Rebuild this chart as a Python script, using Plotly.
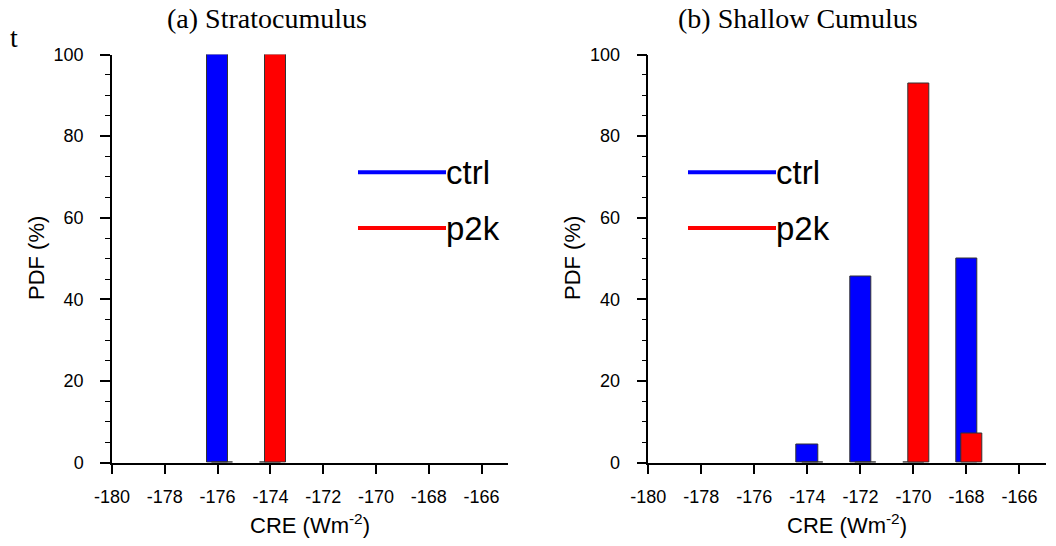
import plotly.graph_objects as go

W, H = 1056, 546

# ---- data ----
sc_bins = [-176, -174]
sc_ctrl = [100, 0]
sc_p2k = [0, 100]

cu_bins = [-174, -172, -170, -168]
cu_ctrl = [4.5, 45.5, 0, 50]
cu_p2k = [0, 0, 92.9, 7.1]

xticks = [-180, -178, -176, -174, -172, -170, -168, -166]
xticklabels = ["-180", "-178", "-176", "-174", "-172", "-170", "-168", "-166"]
yticks = [0, 20, 40, 60, 80, 100]
titles = ["(a) Stratocumulus", "(b) Shallow Cumulus"]
series_names = ["ctrl", "p2k"]
colors = ["#0000ff", "#ff0000"]

# ---- layout geometry (pixels) ----
def px(x):
    return x / W

def py(y):
    return 1 - y / H

dom_x1 = [px(112), px(508)]
dom_x2 = [px(648.3), px(1046)]
dom_y = [py(462.7), py(54.5)]

fig = go.Figure()

BW = 0.8
for (bins, ctrl, p2k, xa, ya) in [
    (sc_bins, sc_ctrl, sc_p2k, "x", "y"),
    (cu_bins, cu_ctrl, cu_p2k, "x2", "y2"),
]:
    fig.add_trace(go.Bar(x=bins, y=ctrl, width=BW, offset=-0.4,
                         marker=dict(color=colors[0], line=dict(color="#333333", width=1)),
                         xaxis=xa, yaxis=ya, showlegend=False, name="ctrl"))
    fig.add_trace(go.Bar(x=bins, y=p2k, width=BW, offset=-0.2,
                         marker=dict(color=colors[1], line=dict(color="#333333", width=1)),
                         xaxis=xa, yaxis=ya, showlegend=False, name="p2k"))

tickfont = dict(family="Liberation Sans", size=18, color="black")
xcommon = dict(range=[-180, -165], tickvals=xticks, ticktext=xticklabels, ticks="outside", ticklen=10,
               tickwidth=1.5, tickcolor="black", showline=True, linecolor="black",
               linewidth=1.5, showgrid=False, zeroline=False, tickfont=tickfont,
               ticklabelstandoff=7, fixedrange=True, automargin=False)
ycommon = dict(range=[0, 100], tickvals=yticks, ticks="outside", ticklen=10,
               tickwidth=1.5, tickcolor="black", showline=True, linecolor="black",
               linewidth=1.5, showgrid=False, zeroline=False, tickfont=tickfont,
               minor=dict(dtick=5, ticks="outside", ticklen=5, tickwidth=1.2, tickcolor="black", showgrid=False),
               ticklabelstandoff=13, fixedrange=True, automargin=False)

fig.update_layout(
    template="none",
    width=W, height=H,
    margin=dict(l=0, r=0, t=0, b=0, pad=0),
    paper_bgcolor="white", plot_bgcolor="white",
    barmode="overlay", bargap=0,
    xaxis=dict(domain=dom_x1, anchor="y", **xcommon),
    yaxis=dict(domain=dom_y, anchor="x", **ycommon),
    xaxis2=dict(domain=dom_x2, anchor="y2", **xcommon),
    yaxis2=dict(domain=dom_y, anchor="x2", **ycommon),
)

ann = []
shapes = []
serif = "Liberation Serif"
sans = "Liberation Sans"
# titles
for t, cx in zip(titles, [266.5, 798]):
    ann.append(dict(text=t, x=px(cx), y=py(19), xref="paper", yref="paper",
                    showarrow=False, xanchor="center", yanchor="middle",
                    font=dict(family=serif, size=28, color="black")))
ann.append(dict(text="t", x=px(14), y=py(38), xref="paper", yref="paper",
                showarrow=False, xanchor="center", yanchor="middle",
                font=dict(family=serif, size=28, color="black")))
# axis titles
for cx_y, cx_x in [(36, 310), (572, 847)]:
    ann.append(dict(text="PDF (%)", x=px(cx_y), y=py(258), xref="paper", yref="paper",
                    showarrow=False, textangle=-90, xanchor="center", yanchor="middle",
                    font=dict(family=sans, size=22, color="black")))
    ann.append(dict(text="CRE (Wm<sup>-2</sup>)", x=px(cx_x), y=py(524), xref="paper", yref="paper",
                    showarrow=False, xanchor="center", yanchor="middle",
                    font=dict(family=sans, size=22, color="black")))
# legends
for x0, x1 in [(358, 446), (688, 776)]:
    for name, col, yy in zip(series_names, colors, [172.3, 228]):
        shapes.append(dict(type="line", xref="paper", yref="paper",
                           x0=px(x0), x1=px(x1), y0=py(yy), y1=py(yy),
                           line=dict(color=col, width=4)))
        ann.append(dict(text=name, x=px(x1 - 2), y=py(yy), xref="paper", yref="paper",
                        showarrow=False, xanchor="left", yanchor="middle",
                        font=dict(family=sans, size=33, color="black")))

fig.update_layout(annotations=ann, shapes=shapes)
fig.write_html("out.html")
